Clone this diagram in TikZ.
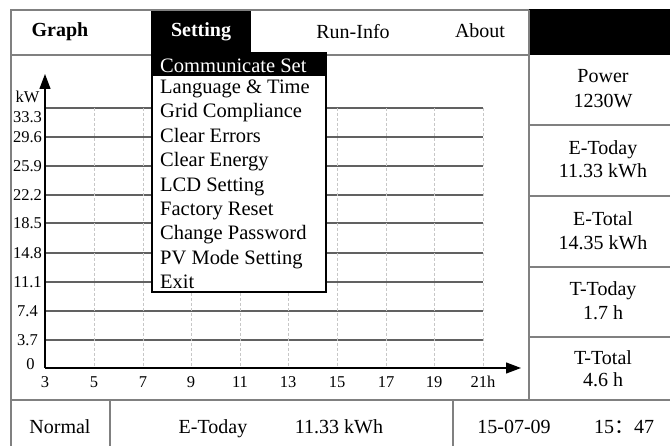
\documentclass[tikz,border=0pt]{standalone}
\usepackage{fontspec}
\setmainfont{Liberation Serif}
\newfontfamily\cjk{Noto Sans CJK SC}
\usetikzlibrary{arrows.meta}
\begin{document}
\begin{tikzpicture}[x=1pt,y=-1pt,
  frame/.style={draw=black!50,line width=2pt},
  hgrid/.style={draw=black!62,line width=1.4pt},
  vgrid/.style={draw=black!22,dashed,line width=0.9pt,dash pattern=on 3pt off 2pt},
  axis/.style={draw=black,line width=1.2pt,-{Triangle[length=15pt,width=11pt]}},
  lbl/.style={font=\fontsize{20}{22}\selectfont,inner sep=0pt,text=black},
  blbl/.style={lbl,font=\fontsize{20}{22}\selectfont\bfseries},
  item/.style={lbl,anchor=base west,font=\fontsize{20.5}{22}\selectfont},
  ax/.style={font=\fontsize{16.5}{18}\selectfont,inner sep=0pt}]
\useasboundingbox (0,0) rectangle (670,446);
\fill[white] (0,0) rectangle (670,446);

% black tabs
\fill[black] (151,10) rectangle (251,55);
\fill[black] (529,9) rectangle (670,55);

% frame lines
\draw[frame] (11,446) -- (11,10) -- (529,10);
\draw[frame] (11,55) -- (529,55);
\draw[frame] (529,10) -- (529,400);
\draw[frame] (11,400) -- (670,400);
\draw[frame] (110,400) -- (110,446);
\draw[frame] (453,400) -- (453,446);
\foreach \yy in {125,196,267,337} \draw[frame] (529,\yy) -- (670,\yy);

% top bar labels
\node[blbl] (tgraph) at (60,32) {Graph};
\node[blbl,text=white] (tset) at (201,32) {Setting};
\node[lbl] (trun) at (353,32) {Run-Info};
\node[lbl] (tabout) at (480,31) {About};

% grid
\foreach \yy in {108,137,166,195,223,253,282,311,340}
  \draw[hgrid] (45,\yy) -- (483,\yy);
\foreach \xx in {94,143,191,240,288,337,386,434,483}
  \draw[vgrid] (\xx,108) -- (\xx,368);
\coordinate (o) at (45,368);
\coordinate (ytop) at (45,74);
\coordinate (xend) at (521,368);
\draw[axis] (o) -- (ytop);
\draw[axis] (o) -- (xend);

% y labels
\node[ax] (ykw) at (27.5,97) {kW};
\node[ax] (y1) at (27.5,117) {33.3};
\node[ax] (y2) at (27.5,137) {29.6};
\node[ax] (y3) at (27.5,166) {25.9};
\node[ax] (y4) at (27.5,195) {22.2};
\node[ax] (y5) at (27.5,223) {18.5};
\node[ax] (y6) at (27.5,253) {14.8};
\node[ax] (y7) at (27.5,282) {11.1};
\node[ax] (y8) at (27.5,311) {7.4};
\node[ax] (y9) at (27.5,340) {3.7};
\node[ax] (y10) at (30.5,364) {0};
% x labels
\node[ax] (x1) at (45,382) {3};
\node[ax] (x2) at (94,382) {5};
\node[ax] (x3) at (143,382) {7};
\node[ax] (x4) at (191,382) {9};
\node[ax] (x5) at (240,382) {11};
\node[ax] (x6) at (288,382) {13};
\node[ax] (x7) at (337,382) {15};
\node[ax] (x8) at (386,382) {17};
\node[ax] (x9) at (434,382) {19};
\node[ax] (x10) at (483,382) {21h};

% menu
\draw[black,line width=2pt,fill=white] (152,53) rectangle (326,292);
\fill[black] (152,53) rectangle (326,76);
\node[item,text=white] (m1) at (160,73) {Communicate Set};
\node[item] (m2) at (160,94) {Language \& Time};
\node[item] (m3) at (160,118) {Grid Compliance};
\node[item] (m4) at (160,143) {Clear Errors};
\node[item] (m5) at (160,167) {Clear Energy};
\node[item] (m6) at (160,192) {LCD Setting};
\node[item] (m7) at (160,216) {Factory Reset};
\node[item] (m8) at (160,240) {Change Password};
\node[item] (m9) at (160,265) {PV Mode Setting};
\node[item] (m10) at (160,289) {Exit};

% right panel
\node[lbl,anchor=base] (p1) at (603,83) {Power};
\node[lbl,anchor=base] (p2) at (603,108) {1230W};
\node[lbl,anchor=base] (e1) at (603,155) {E-Today};
\node[lbl,anchor=base] (e2) at (603,178) {11.33 kWh};
\node[lbl,anchor=base] (f1) at (603,226) {E-Total};
\node[lbl,anchor=base] (f2) at (603,250) {14.35 kWh};
\node[lbl,anchor=base] (g1) at (603,296) {T-Today};
\node[lbl,anchor=base] (g2) at (603,320) {1.7 h};
\node[lbl,anchor=base] (h1) at (603,365) {T-Total};
\node[lbl,anchor=base] (h2) at (603,387) {4.6 h};

% bottom bar
\node[lbl,anchor=base] (b1) at (60,434) {Normal};
\node[lbl,anchor=base] (b2) at (213,434) {E-Today};
\node[lbl,anchor=base] (b3) at (339,434) {11.33 kWh};
\node[lbl,anchor=base] (b4) at (514,434) {15-07-09};
\node[lbl,anchor=base] (b5) at (624,434) {15{\cjk ：}47};
\end{tikzpicture}
\end{document}
